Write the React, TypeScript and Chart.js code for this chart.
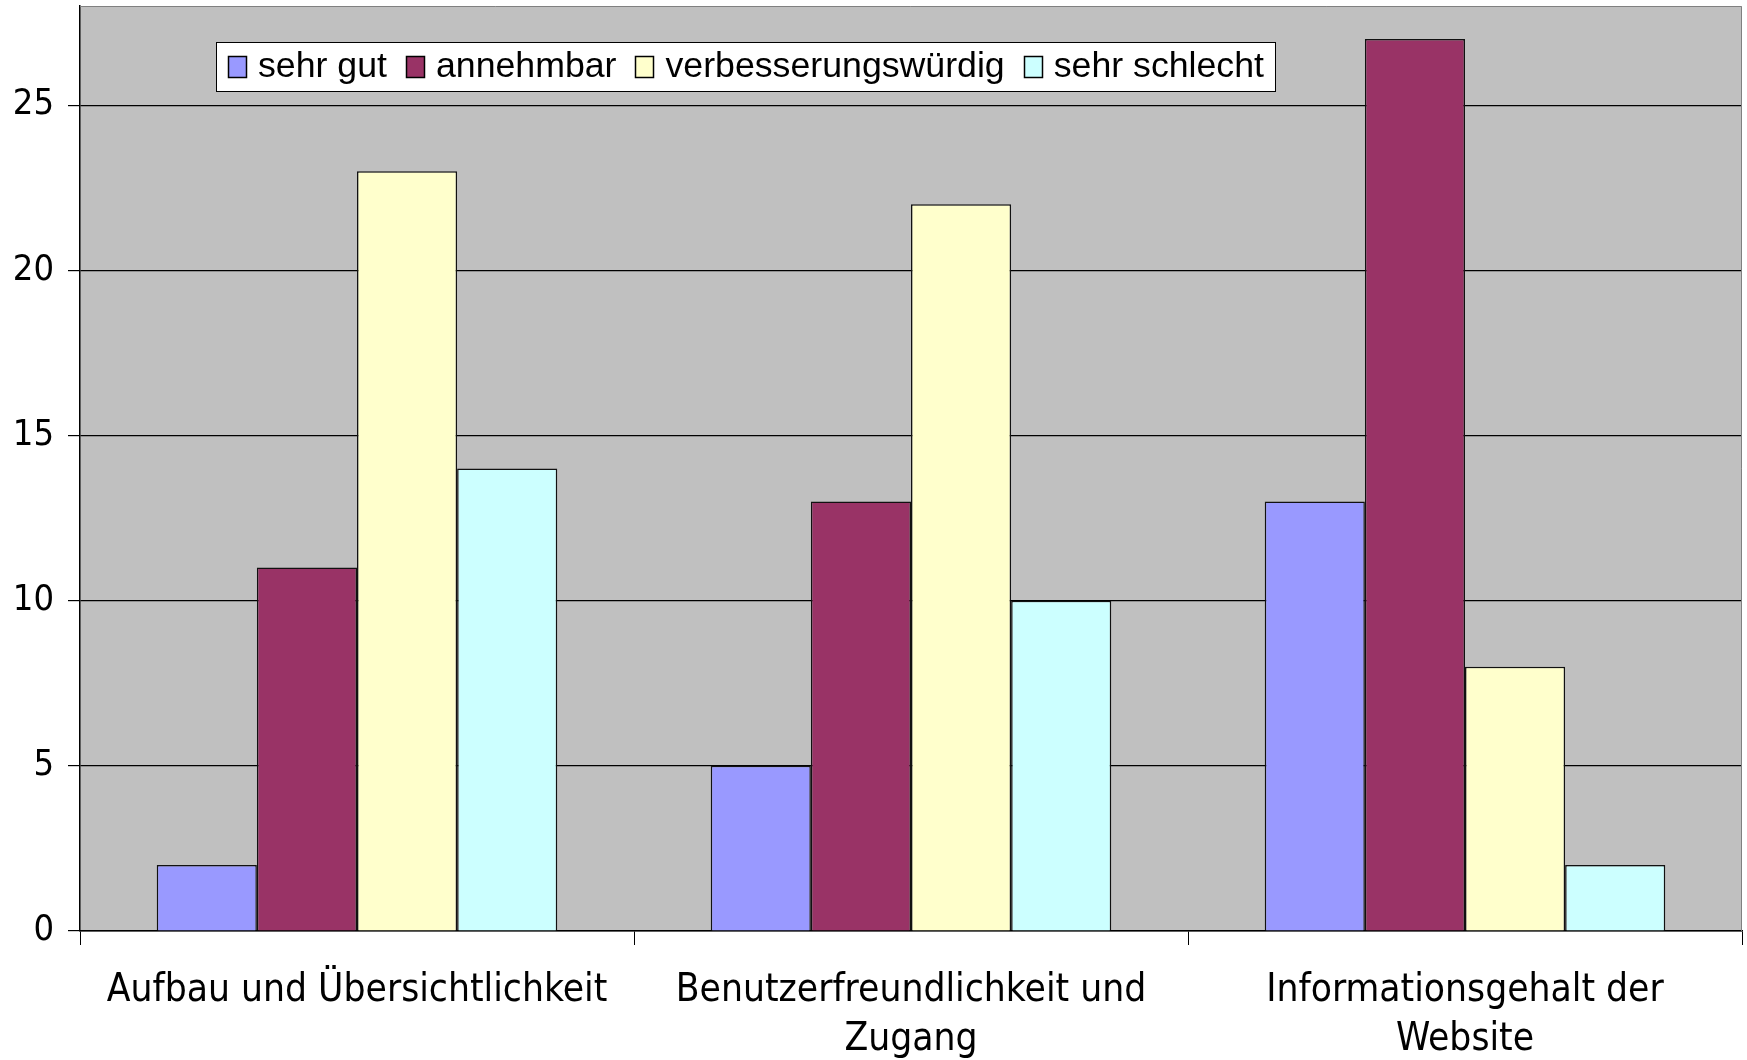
import React, { useEffect, useRef } from "react";
import { Chart, registerables } from "chart.js";

Chart.register(...registerables);

const categories: string[][] = [
  ["Aufbau und Übersichtlichkeit"],
  ["Benutzerfreundlichkeit und", "Zugang"],
  ["Informationsgehalt der", "Website"],
];
const seriesNames = ["sehr gut", "annehmbar", "verbesserungswürdig", "sehr schlecht"];
const sehrGut = [2, 5, 13];
const annehmbar = [11, 13, 27];
const verbesserungswuerdig = [23, 22, 8];
const sehrSchlecht = [14, 10, 2];
const seriesColors = ["#9999FF", "#993366", "#FFFFCC", "#CCFFFF"];
const yMax = 28;
const yStep = 5;

const AXIS_FONT = "'DejaVu Sans Condensed', 'DejaVu Sans', Tahoma, sans-serif";
const LEGEND_FONT = "'Liberation Sans', Arial, sans-serif";

const bgPlugin = {
  id: "plotBg",
  beforeDraw(chart: any) {
    const { ctx, chartArea: ca } = chart;
    ctx.save();
    ctx.fillStyle = "#ffffff";
    ctx.fillRect(0, 0, chart.width, chart.height);
    ctx.fillStyle = "#C0C0C0";
    ctx.fillRect(ca.left, ca.top, ca.right - ca.left, ca.bottom - ca.top);
    ctx.restore();
  },
  afterDraw(chart: any) {
    const { ctx, chartArea: ca } = chart;
    ctx.save();
    ctx.strokeStyle = "#808080";
    ctx.lineWidth = 1;
    ctx.beginPath();
    ctx.moveTo(ca.left, ca.top + 0.5);
    ctx.lineTo(ca.right - 0.5, ca.top + 0.5);
    ctx.lineTo(ca.right - 0.5, ca.bottom);
    ctx.stroke();
    ctx.restore();
  },
};

const legendPlugin = {
  id: "boxLegend",
  afterDraw(chart: any) {
    const { ctx, chartArea: ca } = chart;
    ctx.save();
    ctx.font = `35.7px ${LEGEND_FONT}`;
    const x0 = ca.left + 136;
    const y0 = ca.top + 36;
    const h = 49;
    const sw = 19, swH = 22, padL = 12, gapSwText = 11, gapItem = 19, padR = 11;
    const items = chart.data.datasets.map((ds: any) => ({
      label: ds.label as string,
      color: ds.backgroundColor as string,
      w: ctx.measureText(ds.label).width,
    }));
    let total = padL + padR;
    items.forEach((it: any, i: number) => {
      total += sw + gapSwText + it.w + (i < items.length - 1 ? gapItem : 0);
    });
    ctx.fillStyle = "#ffffff";
    ctx.fillRect(x0, y0, total, h);
    ctx.strokeStyle = "#000000";
    ctx.lineWidth = 1;
    ctx.strokeRect(Math.round(x0) + 0.5, Math.round(y0) + 0.5, Math.round(total), h);
    let x = x0 + padL;
    const cy = y0 + h / 2;
    items.forEach((it: any) => {
      ctx.fillStyle = it.color;
      ctx.fillRect(Math.round(x), Math.round(cy - swH / 2), sw, swH);
      ctx.strokeStyle = "#000000";
      ctx.lineWidth = 1.5;
      ctx.strokeRect(Math.round(x) + 0.5, Math.round(cy - swH / 2) + 0.5, sw - 1, swH - 1);
      x += sw + gapSwText;
      ctx.fillStyle = "#000000";
      ctx.textBaseline = "middle";
      ctx.textAlign = "left";
      ctx.fillText(it.label, x, cy + 1);
      x += it.w + gapItem;
    });
    ctx.restore();
  },
};

export default function App() {
  const ref = useRef<HTMLCanvasElement | null>(null);
  useEffect(() => {
    if (!ref.current) return;
    const values = [sehrGut, annehmbar, verbesserungswuerdig, sehrSchlecht];
    const chart = new Chart(ref.current, {
      type: "bar",
      data: {
        labels: categories as any,
        datasets: seriesNames.map((name, i) => ({
          label: name,
          data: values[i],
          backgroundColor: seriesColors[i],
          borderColor: "#111111",
          borderWidth: 1.5,
          barPercentage: 1,
          categoryPercentage: 0.723,
        })),
      },
      options: {
        responsive: false,
        animation: false,
        devicePixelRatio: 1,
        layout: { padding: { top: 6, right: 5, left: 0, bottom: 0 } },
        plugins: { legend: { display: false }, tooltip: { enabled: false } },
        scales: {
          x: {
            afterFit: (s: any) => {
              s.height = 129;
              s.paddingLeft = 0;
              s.paddingRight = 0;
            },
            grid: {
              display: true,
              drawOnChartArea: false,
              drawTicks: true,
              tickLength: 14,
              color: "#000000",
              offset: true,
            },
            border: { display: true, color: "#000000", width: 1.5 },
            ticks: {
              color: "#000000",
              padding: 21,
              maxRotation: 0,
              autoSkip: false,
              font: { family: AXIS_FONT, size: 38.6, lineHeight: 1.28 },
            },
          },
          y: {
            min: 0,
            max: yMax,
            afterFit: (s: any) => {
              s.width = 80;
              s.paddingTop = 0;
              s.paddingBottom = 0;
            },
            afterBuildTicks: (s: any) => {
              s.ticks = s.ticks.filter((t: any) => t.value % yStep === 0);
            },
            grid: {
              color: "#000000",
              lineWidth: 1.2,
              drawTicks: true,
              tickLength: 12,
            },
            border: { display: true, color: "#000000", width: 1.5 },
            ticks: {
              stepSize: yStep,
              color: "#000000",
              padding: 14,
              font: { family: AXIS_FONT, size: 36 },
            },
          },
        },
      },
      plugins: [bgPlugin, legendPlugin],
    });
    return () => chart.destroy();
  }, []);
  return (
    <div style={{ position: "fixed", left: 0, top: 0, width: 1747, height: 1060, background: "#fff" }}>
      <canvas ref={ref} width={1747} height={1060} style={{ width: 1747, height: 1060 }} />
    </div>
  );
}
